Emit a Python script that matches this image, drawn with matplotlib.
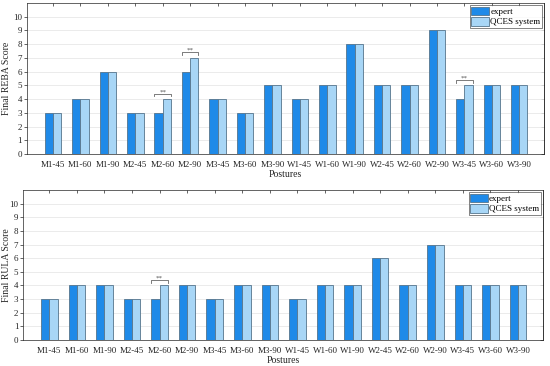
import matplotlib
matplotlib.use("Agg")
import matplotlib.pyplot as plt
import numpy as np

postures = ["M1-45", "M1-60", "M1-90", "M2-45", "M2-60", "M2-90", "M3-45", "M3-60", "M3-90",
            "W1-45", "W1-60", "W1-90", "W2-45", "W2-60", "W2-90", "W3-45", "W3-60", "W3-90"]
reba_expert = [3, 4, 6, 3, 3, 6, 4, 3, 5, 4, 5, 8, 5, 5, 9, 4, 5, 5]
reba_qces = [3, 4, 6, 3, 4, 7, 4, 3, 5, 4, 5, 8, 5, 5, 9, 5, 5, 5]
rula_expert = [3, 4, 4, 3, 3, 4, 3, 4, 4, 3, 4, 4, 6, 4, 7, 4, 4, 4]
rula_qces = [3, 4, 4, 3, 4, 4, 3, 4, 4, 3, 4, 4, 6, 4, 7, 4, 4, 4]
reba_sig = ["M2-60", "M2-90", "W3-45"]
rula_sig = ["M2-60"]
yticks = list(range(0, 11))

plt.rcParams['font.family'] = ['Liberation Serif', 'DejaVu Serif']
c_exp = "#1f8ae8"
c_q = "#a8d6f6"
c_edge = "#55748c"
axc = "#262626"

fig = plt.figure(figsize=(5.5, 3.66), dpi=100)

def panel(rect, e, q, sig, ylabel, label_x):
    ax = fig.add_axes(rect)
    x = np.arange(1, len(postures) + 1)
    w = 0.3
    ax.bar(x - w / 2, e, w, color=c_exp, edgecolor=c_edge, linewidth=0.6, label="expert", zorder=3)
    ax.bar(x + w / 2, q, w, color=c_q, edgecolor=c_edge, linewidth=0.6, label="QCES system", zorder=3)
    ax.set_xlim(0.05, 18.9)
    ax.set_ylim(0, 11)
    ax.set_yticks(yticks)
    ax.set_xticks(x)
    ax.set_xticklabels(postures)
    ax.tick_params(axis='x', labelsize=6.5, colors=axc, length=2.5, width=0.5,
                   direction='in', top=True, bottom=False, pad=5)
    ax.tick_params(axis='y', labelsize=6.5, colors=axc, length=2, width=0.5,
                   direction='out', left=True, right=False, pad=1.5)
    sec = ax.secondary_yaxis('right')
    sec.set_yticks(yticks)
    sec.tick_params(direction='in', length=2.5, width=0.5, colors=axc, labelright=False)
    sec.spines['right'].set_color(axc)
    sec.spines['right'].set_linewidth(0.5)
    ax.grid(axis='y', color="#e8e8e8", linewidth=0.6, zorder=0)
    for s in ax.spines.values():
        s.set_color(axc)
        s.set_linewidth(0.5)
    ax.set_xlabel("Postures", fontsize=7, color=axc, labelpad=1)
    ax.set_ylabel(ylabel, fontsize=7, color=axc)
    ax.yaxis.set_label_coords(label_x, 0.5)
    for name in sig:
        i = postures.index(name)
        xc = x[i]
        top = max(e[i], q[i]) + 0.4
        ax.plot([xc - w, xc - w, xc + w, xc + w], [top - 0.2, top, top, top - 0.2],
                color="#666666", linewidth=0.6, zorder=4)
        ax.text(xc, top - 0.05, "**", ha='center', va='bottom', fontsize=5, color="#555555")
    leg = ax.legend(loc='upper right', fontsize=6.5, frameon=True, fancybox=False,
                    edgecolor=axc, borderpad=0.15, handlelength=2.0, handleheight=1.1,
                    handletextpad=0.1, labelspacing=0.1, borderaxespad=0.25)
    leg.get_frame().set_linewidth(0.5)
    return ax

panel([0.049, 0.579, 0.940, 0.413], reba_expert, reba_qces, reba_sig, "Final REBA Score", -0.030)
panel([0.042, 0.071, 0.945, 0.410], rula_expert, rula_qces, rula_sig, "Final RULA Score", -0.024)

fig.savefig("out.png", dpi=100)
